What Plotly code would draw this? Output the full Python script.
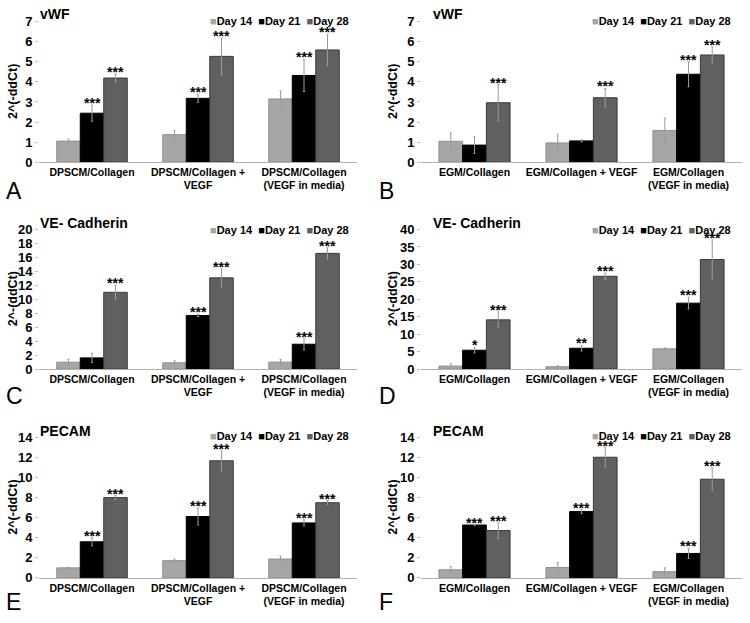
import plotly.graph_objects as go

W, H = 750, 623
FONT = "Liberation Sans, Arial, sans-serif"

days = ["Day 14", "Day 21", "Day 28"]
groups_dpscm = ["DPSCM/Collagen", "DPSCM/Collagen +<br>VEGF", "DPSCM/Collagen<br>(VEGF in media)"]
groups_egm = ["EGM/Collagen", "EGM/Collagen + VEGF", "EGM/Collagen<br>(VEGF in media)"]

# Panel A: vWF, DPSCM
a_d14 = [1.05, 1.37, 3.15]; a_d14_err = [0.10, 0.20, 0.40]
a_d21 = [2.44, 3.18, 4.32]; a_d21_err = [0.40, 0.20, 0.80]
a_d28 = [4.19, 5.27, 5.59]; a_d28_err = [0.20, 0.92, 0.78]
a_sig21 = ["***", "***", "***"]; a_sig28 = ["***", "***", "***"]

# Panel B: vWF, EGM
b_d14 = [1.04, 0.96, 1.58]; b_d14_err = [0.42, 0.44, 0.62]
b_d21 = [0.85, 1.06, 4.38]; b_d21_err = [0.42, 0.05, 0.62]
b_d28 = [2.96, 3.21, 5.34]; b_d28_err = [0.90, 0.46, 0.40]
b_sig21 = ["", "", "***"]; b_sig28 = ["***", "***", "***"]

# Panel C: VE-Cadherin, DPSCM
c_d14 = [0.98, 0.90, 1.00]; c_d14_err = [0.40, 0.30, 0.40]
c_d21 = [1.60, 7.68, 3.56]; c_d21_err = [0.65, 0.15, 0.80]
c_d28 = [11.0, 13.07, 16.58]; c_d28_err = [1.00, 1.30, 0.80]
c_sig21 = ["", "***", "***"]; c_sig28 = ["***", "***", "***"]

# Panel D: VE-Cadherin, EGM
d_d14 = [0.85, 0.66, 5.80]; d_d14_err = [0.60, 0.30, 0.25]
d_d21 = [5.40, 5.97, 18.9]; d_d21_err = [0.80, 0.80, 1.70]
d_d28 = [14.1, 26.6, 31.4]; d_d28_err = [2.30, 0.90, 5.60]
d_sig21 = ["*", "**", "***"]; d_sig28 = ["***", "***", "***"]

# Panel E: PECAM, DPSCM
e_d14 = [1.00, 1.72, 1.88]; e_d14_err = [0.05, 0.15, 0.30]
e_d21 = [3.60, 6.12, 5.48]; e_d21_err = [0.40, 0.85, 0.30]
e_d28 = [8.00, 11.67, 7.49]; e_d28_err = [0.20, 1.00, 0.20]
e_sig21 = ["***", "***", "***"]; e_sig28 = ["***", "***", "***"]

# Panel F: PECAM, EGM
f_d14 = [0.81, 1.04, 0.62]; f_d14_err = [0.33, 0.50, 0.38]
f_d21 = [5.27, 6.61, 2.44]; f_d21_err = [0.05, 0.20, 0.50]
f_d28 = [4.72, 12.02, 9.83]; f_d28_err = [0.80, 0.95, 1.14]
f_sig21 = ["***", "***", "***"]; f_sig28 = ["***", "***", "***"]

panels = [
    dict(letter="A", title="vWF", ytitle="2^(-ddCt)", groups=groups_dpscm, ymax=7, dtick=1,
         vals=[a_d14, a_d21, a_d28], errs=[a_d14_err, a_d21_err, a_d28_err], sig=[a_sig21, a_sig28]),
    dict(letter="B", title="vWF", ytitle="2^(-ddCt)", groups=groups_egm, ymax=7, dtick=1,
         vals=[b_d14, b_d21, b_d28], errs=[b_d14_err, b_d21_err, b_d28_err], sig=[b_sig21, b_sig28]),
    dict(letter="C", title="VE- Cadherin", ytitle="2^-(ddCt)", groups=groups_dpscm, ymax=20, dtick=2,
         vals=[c_d14, c_d21, c_d28], errs=[c_d14_err, c_d21_err, c_d28_err], sig=[c_sig21, c_sig28]),
    dict(letter="D", title="VE- Cadherin", ytitle="2^(-ddCt)", groups=groups_egm, ymax=40, dtick=5,
         vals=[d_d14, d_d21, d_d28], errs=[d_d14_err, d_d21_err, d_d28_err], sig=[d_sig21, d_sig28]),
    dict(letter="E", title="PECAM", ytitle="2^(-ddCt)", groups=groups_dpscm, ymax=14, dtick=2,
         vals=[e_d14, e_d21, e_d28], errs=[e_d14_err, e_d21_err, e_d28_err], sig=[e_sig21, e_sig28]),
    dict(letter="F", title="PECAM", ytitle="2^(-ddCt)", groups=groups_egm, ymax=14, dtick=2,
         vals=[f_d14, f_d21, f_d28], errs=[f_d14_err, f_d21_err, f_d28_err], sig=[f_sig21, f_sig28]),
]

fills = ["#a6a6a6", "#000000", "#606060"]
outlines = ["#8f8f8f", "#000000", "#3a3a3a"]
BARGAP = 0.335

# pixel layout (x domain px, y domain px top/bottom) per column/row
col_x = [(39, 357), (421, 742)]
row_y = [(15, 159), (228, 371), (441, 585)]
col_ytitle_x = [13, 393]
col_letter_x = [4, 377]
row_letter_y = [189, 399, 610]
row_title_y = [7, 221, 434]
col_title_x = [38, 431]
row_legend_y = [14, 228, 440]
col_legend_x = [351, 733]


def px(x):
    return x / W


def py(y):
    return 1 - y / H


fig = go.Figure()
layout = dict(
    width=W, height=H, margin=dict(l=0, r=0, t=0, b=0),
    paper_bgcolor="white", plot_bgcolor="white",
    barmode="group", bargap=BARGAP, bargroupgap=0,
    showlegend=False, font=dict(family=FONT, color="black"),
)
annotations = []

for i, p in enumerate(panels):
    r, c = divmod(i, 2)
    n = i + 1
    xa = "x" if n == 1 else f"x{n}"
    ya = "y" if n == 1 else f"y{n}"
    xkey = "xaxis" if n == 1 else f"xaxis{n}"
    ykey = "yaxis" if n == 1 else f"yaxis{n}"
    xs = list(range(len(p["groups"])))
    for d in range(3):
        fig.add_trace(go.Bar(
            x=xs, y=p["vals"][d], name=days[d], xaxis=xa, yaxis=ya,
            marker=dict(color=fills[d], line=dict(color=outlines[d], width=1)),
            error_y=dict(type="data", array=p["errs"][d], visible=True,
                         color="#9a9a9a", thickness=1, width=1),
        ))
    x0, x1 = col_x[c]
    yt, yb = row_y[r]
    layout[xkey] = dict(
        domain=[px(x0), px(x1)], anchor=ya, range=[-0.5, 2.5],
        tickmode="array", tickvals=xs, ticktext=[f"<b>{g}</b>" for g in p["groups"]],
        tickfont=dict(family=FONT, size=10.5, color="black", weight="bold"),
        showline=True, linecolor="#b0b0b0", linewidth=1,
        ticks="", showgrid=False, zeroline=False, fixedrange=True,
    )
    layout[ykey] = dict(
        domain=[py(yb), py(yt)], anchor=xa, range=[0, p["ymax"]], dtick=p["dtick"],
        tickfont=dict(family=FONT, size=13, color="black", weight="bold"),
        showline=False, showgrid=False, zeroline=False,
        ticks="outside", ticklen=3, tickcolor="#c0c0c0",
        fixedrange=True,
    )
    # significance stars
    bw = (1 - BARGAP) / 3
    for k, d in enumerate([1, 2]):
        off = (d - 1) * bw
        for g in xs:
            s = p["sig"][k][g]
            if s:
                annotations.append(dict(
                    x=g + off, y=p["vals"][d][g] + p["errs"][d][g], xref=xa, yref=ya,
                    text=f"<b>{s}</b>", showarrow=False, yanchor="middle", yshift=2,
                    font=dict(family=FONT, size=14, color="black"),
                ))
    # panel title
    annotations.append(dict(
        x=px(col_title_x[c]), y=py(row_title_y[r]), xref="paper", yref="paper",
        text=f"<b>{p['title']}</b>", showarrow=False, xanchor="left", yanchor="middle",
        font=dict(family=FONT, size=14, color="black"),
    ))
    # y axis title
    annotations.append(dict(
        x=px(col_ytitle_x[c]), y=py((yt + yb) / 2), xref="paper", yref="paper",
        text=f"<b>{p['ytitle']}</b>", showarrow=False, textangle=-90,
        xanchor="center", yanchor="middle",
        font=dict(family=FONT, size=12.5, color="black"),
    ))
    # panel letter
    annotations.append(dict(
        x=px(col_letter_x[c]), y=py(row_letter_y[r]), xref="paper", yref="paper",
        text=p["letter"], showarrow=False, xanchor="left", yanchor="middle",
        font=dict(family=FONT, size=23, color="black"),
    ))
    # legend
    leg = "  ".join(
        f"<span style='color:{fills[d]}'>■</span><b>{days[d]}</b>" for d in range(3)
    )
    annotations.append(dict(
        x=px(col_legend_x[c]), y=py(row_legend_y[r]), xref="paper", yref="paper",
        text=leg, showarrow=False, xanchor="right", yanchor="middle",
        font=dict(family=FONT, size=11, color="black"),
    ))

layout["annotations"] = annotations
fig.update_layout(**layout)
fig.write_html("out.html", config={"displayModeBar": False},
               post_script="document.body.style.margin='0';")
